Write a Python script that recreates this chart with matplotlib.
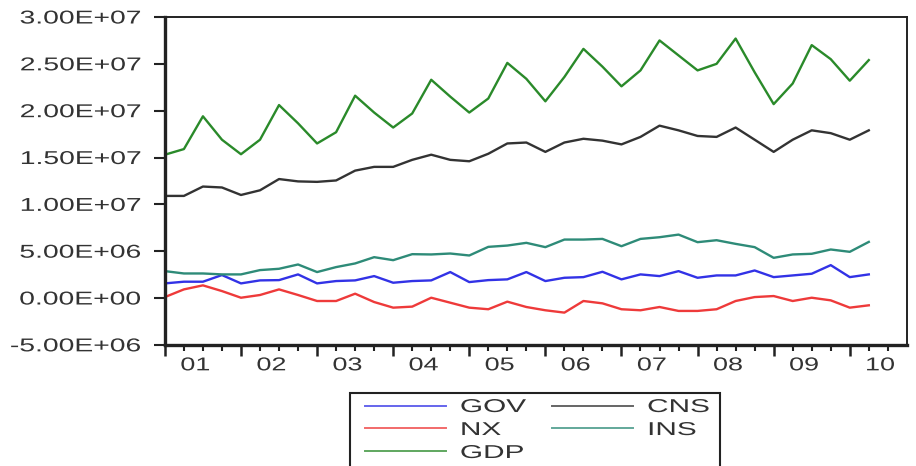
import numpy as np
import matplotlib
matplotlib.use('Agg')
import matplotlib.pyplot as plt
from matplotlib.ticker import FuncFormatter
from matplotlib.patheffects import AbstractPathEffect
from matplotlib.transforms import Affine2D
from matplotlib.patches import Rectangle

plt.rcParams['font.family'] = ['Liberation Sans', 'DejaVu Sans']

# quarterly data, 2001Q1 - 2010Q2
year_labels = ['01', '02', '03', '04', '05', '06', '07', '08', '09', '10']

gdp = [1.53e7, 1.59e7, 1.94e7, 1.69e7, 1.535e7, 1.69e7, 2.06e7, 1.865e7, 1.65e7, 1.77e7,
       2.16e7, 1.98e7, 1.82e7, 1.97e7, 2.33e7, 2.15e7, 1.98e7, 2.13e7, 2.51e7, 2.34e7,
       2.10e7, 2.36e7, 2.66e7, 2.47e7, 2.26e7, 2.43e7, 2.75e7, 2.59e7, 2.43e7, 2.50e7,
       2.77e7, 2.41e7, 2.07e7, 2.29e7, 2.70e7, 2.55e7, 2.32e7, 2.54e7]
cns = [1.09e7, 1.09e7, 1.19e7, 1.18e7, 1.10e7, 1.15e7, 1.27e7, 1.245e7, 1.24e7, 1.255e7,
       1.36e7, 1.40e7, 1.40e7, 1.475e7, 1.53e7, 1.475e7, 1.46e7, 1.54e7, 1.65e7, 1.66e7,
       1.56e7, 1.66e7, 1.70e7, 1.68e7, 1.64e7, 1.72e7, 1.84e7, 1.79e7, 1.73e7, 1.72e7,
       1.82e7, 1.69e7, 1.56e7, 1.69e7, 1.79e7, 1.76e7, 1.69e7, 1.79e7]
ins = [2.87e6, 2.62e6, 2.62e6, 2.52e6, 2.52e6, 2.98e6, 3.12e6, 3.58e6, 2.77e6, 3.30e6,
       3.69e6, 4.36e6, 4.04e6, 4.68e6, 4.65e6, 4.75e6, 4.54e6, 5.46e6, 5.60e6, 5.89e6,
       5.43e6, 6.24e6, 6.24e6, 6.31e6, 5.53e6, 6.31e6, 6.49e6, 6.77e6, 5.96e6, 6.17e6,
       5.78e6, 5.43e6, 4.29e6, 4.65e6, 4.72e6, 5.18e6, 4.93e6, 5.99e6]
gov = [1.56e6, 1.74e6, 1.74e6, 2.45e6, 1.56e6, 1.88e6, 1.91e6, 2.52e6, 1.56e6, 1.81e6,
       1.88e6, 2.34e6, 1.63e6, 1.81e6, 1.88e6, 2.77e6, 1.70e6, 1.91e6, 1.99e6, 2.77e6,
       1.81e6, 2.16e6, 2.23e6, 2.80e6, 1.99e6, 2.52e6, 2.34e6, 2.87e6, 2.16e6, 2.41e6,
       2.41e6, 2.94e6, 2.23e6, 2.41e6, 2.59e6, 3.51e6, 2.23e6, 2.52e6]
nx = [0.10e6, 0.92e6, 1.35e6, 0.74e6, 0.03e6, 0.32e6, 0.92e6, 0.32e6, -0.32e6, -0.32e6,
      0.46e6, -0.43e6, -1.03e6, -0.92e6, 0.03e6, -0.50e6, -1.03e6, -1.20e6, -0.39e6, -0.96e6,
      -1.31e6, -1.56e6, -0.32e6, -0.57e6, -1.20e6, -1.31e6, -0.96e6, -1.38e6, -1.38e6, -1.20e6,
      -0.32e6, 0.10e6, 0.21e6, -0.32e6, 0.03e6, -0.25e6, -1.03e6, -0.78e6]

t = np.arange(len(gdp))


class StretchX(AbstractPathEffect):
    # the original screenshot has wide, horizontally stretched lettering
    def __init__(self, sx, anchor='left'):
        super().__init__()
        self.sx = sx
        self.anchor = anchor

    def draw_path(self, renderer, gc, tpath, affine, rgbFace=None):
        v = tpath.vertices
        if tpath.codes is not None:
            v = v[tpath.codes != 79]
        x0 = 0.0
        if len(v):
            if self.anchor == 'right':
                x0 = v[:, 0].max()
            elif self.anchor == 'center':
                x0 = (v[:, 0].min() + v[:, 0].max()) / 2
        st = Affine2D().translate(-x0, 0).scale(self.sx, 1).translate(x0, 0)
        renderer.draw_path(gc, tpath, st + affine, rgbFace)


fs = 13.4
fig = plt.figure(figsize=(9.16, 4.66), dpi=100)
ax = fig.add_axes([0.180, 0.260, 0.810, 0.7035])

lw = 1.7
l_gov, = ax.plot(t, gov, color='#3232e6', lw=lw, label='GOV')
l_cns, = ax.plot(t, cns, color='#333333', lw=lw, label='CNS')
l_nx, = ax.plot(t, nx, color='#ee3a3a', lw=lw, label='NX')
l_ins, = ax.plot(t, ins, color='#2e8b78', lw=lw, label='INS')
l_gdp, = ax.plot(t, gdp, color='#2a8a2a', lw=lw, label='GDP')

ax.set_xlim(0, 39)
ax.set_ylim(-5e6, 3e7)
ax.set_yticks(np.arange(-5e6, 3.01e7, 5e6))
ax.yaxis.set_major_formatter(FuncFormatter(lambda v, p: '%.2E' % v))

# year ticks (long) and quarter ticks (short), labels in the middle of the year
ax.set_xticks(np.arange(0, 39, 4))
ax.set_xticks(np.arange(0, 39, 1), minor=True)
ax.set_xticklabels([])
ax.tick_params(axis='x', which='major', direction='out', length=8, width=1.8, color='#222222')
ax.tick_params(axis='x', which='minor', direction='out', length=4, width=1.5, color='#222222')
ax.tick_params(axis='y', direction='out', length=8, width=1.5, pad=9,
               labelsize=fs, labelcolor='#333333', color='#222222')

sec = ax.secondary_xaxis('bottom')
sec.set_xticks(np.arange(len(year_labels)) * 4 + 1.6, year_labels)
sec.tick_params(length=0, pad=9, labelsize=fs, labelcolor='#333333')
sec.spines['bottom'].set_visible(False)

for lbl in ax.get_yticklabels():
    lbl.set_path_effects([StretchX(1.52, 'right')])
for lbl in sec.get_xticklabels():
    lbl.set_path_effects([StretchX(1.45, 'center')])

ax.spines['left'].set_linewidth(2.4)
ax.spines['bottom'].set_linewidth(2.4)
ax.spines['top'].set_linewidth(1.4)
ax.spines['right'].set_linewidth(1.4)
for s in ax.spines.values():
    s.set_color('#222222')

leg = ax.legend([l_gov, l_nx, l_gdp, l_cns, l_ins], ['GOV', 'NX', 'GDP', 'CNS', 'INS'],
                ncol=2, loc='upper left', bbox_to_anchor=(365 / 916, 1 - 399 / 466),
                bbox_transform=fig.transFigure, borderaxespad=0, borderpad=0,
                frameon=False, fontsize=fs, handlelength=4.35,
                handletextpad=0.75, columnspacing=2.74, labelspacing=0.32)
for txt in leg.get_texts():
    txt.set_color('#333333')
    txt.set_path_effects([StretchX(1.6, 'left')])
for h in leg.legend_handles:
    h.set_linewidth(1.4)
    h.set_alpha(0.75)

# legend box (runs past the bottom edge, as in the source image)
fig.add_artist(Rectangle((350 / 916, -0.05), 370 / 916, 0.05 + 1 - 393 / 466,
                         transform=fig.transFigure, fill=False,
                         edgecolor='#222222', linewidth=1.5))

fig.savefig('out.png', dpi=100)
